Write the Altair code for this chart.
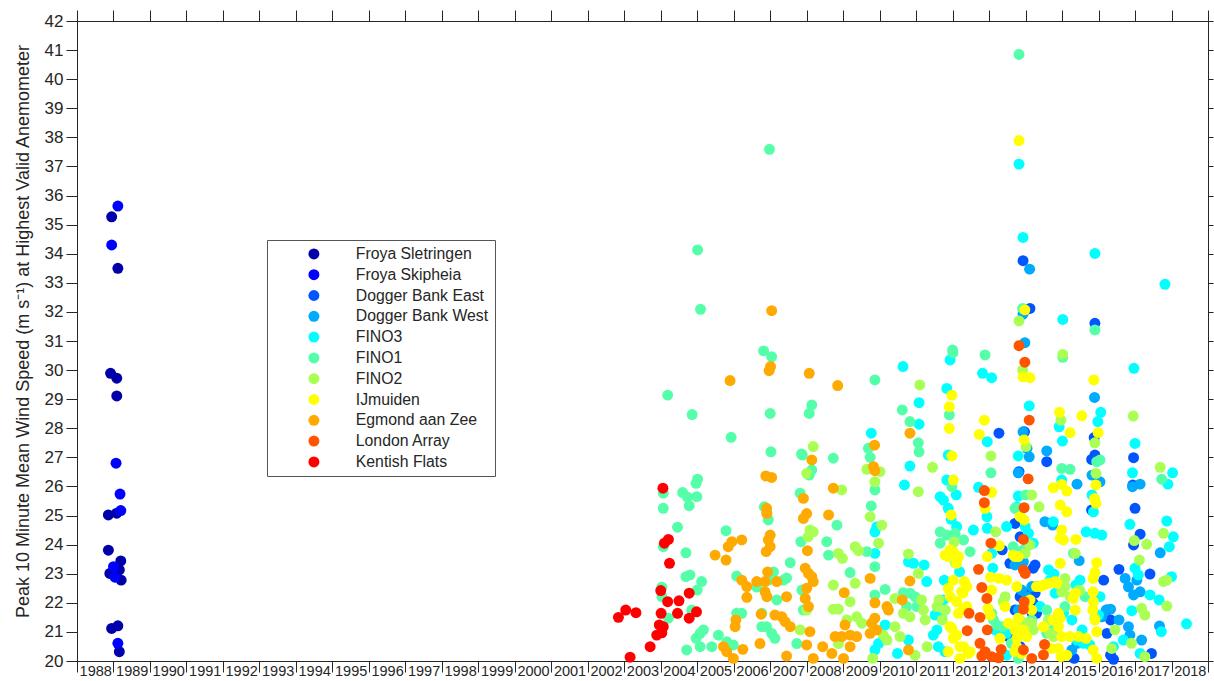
import altair as alt
import pandas as pd

SERIES = ["Froya Sletringen", "Froya Skipheia", "Dogger Bank East", "Dogger Bank West",
          "FINO3", "FINO1", "FINO2", "IJmuiden", "Egmond aan Zee", "London Array", "Kentish Flats"]
COLORS = ["#0000AA", "#0000FF", "#0055FF", "#00AAFF", "#00FFFF", "#55FFAA",
          "#AAFF55", "#FFFF00", "#FFAA00", "#FF5500", "#FF0000"]

YEAR_TICKS = list(range(1988, 2020))
SPEED_TICKS = list(range(20, 43))

froya_sletringen = [(1988.92, 29.89), (1989.09, 29.72), (1989.09, 29.11), (1988.95, 35.27), (1989.12, 33.50),
                    (1988.86, 25.02), (1989.09, 25.08), (1988.86, 23.81), (1989.20, 23.44), (1988.90, 23.01),
                    (1989.16, 23.13), (1989.21, 22.78), (1988.95, 21.12), (1989.12, 21.21), (1989.16, 20.32)]
froya_skipheia = [(1989.12, 35.64), (1988.95, 34.30), (1989.07, 26.80), (1989.18, 25.74), (1989.20, 25.17),
                  (1989.00, 23.24), (1989.04, 22.88), (1989.12, 20.61)]
dogger_east = [(2013.93, 33.76), (2014.12, 32.12), (2015.90, 31.61), (2013.27, 27.83), (2013.36, 23.82),
               (2013.53, 20.84), (2014.58, 26.85), (2013.97, 27.88), (2013.71, 24.73), (2013.82, 26.51),
               (2016.96, 26.99), (2016.94, 26.05), (2017.00, 25.25), (2017.14, 24.36), (2016.56, 23.15),
               (2017.41, 22.99), (2016.96, 23.99), (2015.81, 26.93), (2015.90, 27.08), (2015.81, 25.19),
               (2015.88, 27.68), (2016.41, 20.06), (2017.45, 20.26), (2015.33, 20.09), (2014.26, 23.30),
               (2014.18, 21.64), (2016.23, 21.75),
               (2013.85, 24.27), (2014.21, 23.19), (2013.71, 21.75), (2013.85, 22.21), (2013.99, 22.33),
               (2014.26, 22.33), (2014.21, 21.98), (2014.30, 21.64), (2013.85, 20.49), (2016.14, 22.78),
               (2016.33, 21.41), (2016.23, 20.95), (2016.33, 20.20), (2013.57, 23.36), (2014.30, 22.56)]
dogger_west = [(2014.11, 33.47), (2013.93, 31.92), (2013.98, 30.94), (2015.89, 29.06), (2014.58, 27.22),
               (2015.41, 26.08), (2013.80, 26.47), (2014.10, 27.02), (2014.04, 27.31), (2013.93, 27.88),
               (2016.93, 25.99), (2017.14, 26.08), (2015.82, 26.39), (2016.04, 26.16), (2014.53, 24.79),
               (2014.74, 24.67), (2015.47, 23.45), (2016.73, 22.84), (2016.82, 22.55), (2016.96, 22.27),
               (2017.14, 22.38), (2017.05, 22.78), (2017.69, 23.72), (2017.67, 21.20), (2016.82, 21.18),
               (2016.86, 20.89), (2017.18, 20.72), (2016.21, 21.75), (2016.33, 21.78), (2016.56, 21.41),
               (2016.09, 21.52), (2013.71, 23.30), (2013.80, 21.75), (2013.89, 22.44), (2014.17, 22.56),
               (2015.27, 20.38), (2015.41, 20.61), (2013.94, 23.41), (2014.03, 22.21)]
fino3 = [(2013.82, 37.08), (2013.93, 34.56), (2015.02, 31.74), (2015.90, 34.01), (2017.82, 32.95),
         (2010.64, 30.12), (2011.93, 30.35), (2012.82, 29.89), (2013.07, 29.74), (2016.97, 30.06),
         (2011.08, 28.88), (2011.08, 28.14), (2009.77, 27.83), (2010.83, 26.70), (2010.68, 26.05),
         (2009.92, 24.61), (2009.87, 24.44), (2009.87, 23.70), (2010.79, 23.41), (2010.93, 23.36),
         (2011.22, 23.30), (2011.29, 22.73), (2010.15, 21.24), (2009.97, 20.60), (2009.87, 20.38),
         (2010.79, 20.72), (2010.49, 20.26), (2011.47, 20.89), (2011.84, 29.37), (2011.88, 27.08),
         (2011.84, 26.22), (2011.66, 25.65), (2011.75, 25.53), (2012.10, 25.71), (2011.88, 25.25),
         (2011.96, 24.87), (2012.11, 24.62), (2012.19, 23.07), (2011.77, 22.78), (2011.70, 21.47),
         (2011.75, 22.10), (2012.95, 27.54), (2012.71, 25.97), (2012.94, 24.96), (2012.95, 24.56),
         (2013.10, 23.19), (2014.10, 28.77), (2016.06, 28.55), (2015.98, 28.23), (2014.92, 28.05),
         (2015.01, 27.56), (2017.00, 27.48), (2016.93, 26.47), (2018.03, 26.47), (2017.90, 26.08),
         (2013.80, 27.05), (2015.82, 25.71), (2015.86, 25.13), (2014.99, 26.22), (2014.76, 24.79),
         (2015.66, 24.44), (2015.90, 24.39), (2016.09, 24.33), (2017.87, 24.81), (2016.86, 24.70),
         (2018.05, 24.27), (2017.94, 23.93), (2017.00, 23.19), (2017.09, 22.96), (2018.00, 22.90),
         (2014.63, 23.13), (2014.78, 22.99), (2015.38, 22.61), (2017.41, 22.27), (2017.66, 22.10),
         (2017.72, 21.01), (2018.41, 21.28), (2017.14, 20.26), (2016.68, 20.72), (2014.81, 22.33),
         (2015.58, 20.61), (2015.76, 20.55), (2016.91, 21.73), (2016.00, 21.58), (2013.80, 25.67),
         (2013.48, 24.62),
         (2013.76, 25.30), (2013.99, 24.62), (2014.08, 24.39), (2014.21, 24.05), (2014.40, 21.87),
         (2013.48, 20.95), (2014.67, 22.78), (2014.86, 22.67), (2015.49, 22.78), (2015.04, 21.64),
         (2015.27, 21.41), (2015.55, 21.07), (2015.41, 20.72), (2016.04, 22.21), (2016.41, 20.49),
         (2011.52, 21.58), (2011.61, 20.49), (2011.79, 20.32), (2011.57, 21.07), (2012.57, 24.50),
         (2013.07, 23.70), (2013.16, 21.07), (2013.30, 20.84), (2013.48, 20.20)]
fino1 = [(2013.82, 40.85), (2006.98, 37.59), (2005.01, 34.13), (2005.09, 32.09), (2006.82, 30.66),
         (2007.04, 30.46), (2009.87, 29.66), (2012.00, 30.69), (2012.01, 30.60), (2012.89, 30.52),
         (2013.92, 32.12), (2015.90, 31.38), (2015.02, 30.44),
         (2004.19, 29.14), (2004.86, 28.47), (2005.93, 27.69), (2007.00, 28.51), (2007.02, 27.19),
         (2007.88, 27.08), (2005.01, 26.25), (2004.97, 26.11), (2004.60, 25.79), (2004.73, 25.63),
         (2004.99, 25.65), (2004.78, 25.34), (2004.07, 25.77), (2004.07, 25.25), (2004.46, 24.60),
         (2004.07, 23.93), (2004.69, 23.72), (2005.79, 24.48), (2007.82, 25.77), (2006.84, 25.30),
         (2006.90, 25.13), (2006.95, 24.85), (2004.69, 22.90), (2004.80, 22.96), (2005.12, 22.73),
         (2005.00, 22.44), (2004.03, 22.54), (2004.03, 22.21), (2004.85, 21.75), (2004.21, 21.47),
         (2005.08, 20.95), (2004.97, 20.78), (2005.17, 21.07), (2004.71, 20.38), (2005.08, 20.49),
         (2005.40, 20.49), (2005.58, 20.89), (2005.81, 20.66), (2005.99, 20.55), (2006.08, 21.64),
         (2006.22, 21.64), (2006.08, 22.92), (2006.63, 22.54), (2006.77, 21.18), (2006.90, 21.18),
         (2007.04, 20.95), (2007.13, 20.78), (2006.77, 21.64), (2007.09, 23.06), (2006.95, 22.78),
         (2007.36, 22.78), (2007.45, 22.85), (2007.18, 22.10), (2007.55, 23.38), (2007.73, 20.60),
         (2007.87, 22.44), (2007.91, 21.75), (2007.84, 24.10),
         (2008.14, 28.80), (2008.07, 28.51), (2010.62, 28.63), (2010.83, 28.23), (2011.06, 27.50),
         (2011.08, 27.19), (2009.69, 27.31), (2009.74, 27.00), (2009.87, 25.88), (2008.14, 26.57),
         (2008.07, 26.39), (2008.73, 26.97), (2007.86, 27.12), (2008.83, 24.67), (2008.55, 24.10),
         (2009.77, 25.33), (2009.87, 23.24), (2009.65, 23.76), (2008.60, 23.64), (2009.19, 23.04),
         (2010.15, 22.46), (2009.87, 22.27), (2010.65, 22.35), (2010.83, 22.33), (2010.97, 22.21),
         (2010.74, 21.87), (2011.02, 21.87), (2011.91, 28.46), (2011.98, 25.99), (2011.66, 24.44),
         (2011.84, 24.33), (2012.07, 24.39), (2011.66, 24.05), (2012.48, 23.76), (2013.05, 26.47),
         (2013.21, 21.24),
         (2014.99, 26.62), (2015.22, 26.59), (2017.73, 26.25), (2015.95, 26.85), (2016.04, 26.91),
         (2014.00, 25.71), (2013.85, 25.25), (2013.94, 23.82), (2015.31, 23.70), (2014.58, 21.75),
         (2015.08, 21.87), (2013.71, 25.25), (2014.17, 21.41), (2014.76, 21.07), (2013.80, 20.09),
         (2013.66, 23.93), (2013.80, 23.70), (2013.61, 20.61), (2013.38, 21.18), (2014.58, 20.95),
         (2015.44, 22.44), (2015.63, 22.21), (2013.07, 21.64), (2013.12, 21.41), (2012.30, 24.16)]
fino2 = [(2011.10, 29.49), (2013.82, 31.69), (2013.92, 30.00), (2015.02, 30.54),
         (2007.82, 21.07), (2008.00, 26.45), (2008.00, 21.75),
         (2011.45, 26.66), (2010.01, 26.51), (2009.65, 26.59), (2009.87, 26.16), (2011.06, 25.82),
         (2008.18, 27.37), (2008.96, 25.88), (2008.09, 24.50), (2008.18, 24.44), (2008.04, 24.27),
         (2009.74, 24.96), (2010.06, 24.67), (2009.97, 24.05), (2008.87, 23.70), (2008.98, 23.53),
         (2009.33, 23.93), (2009.42, 23.79), (2009.33, 22.67), (2008.73, 22.61), (2009.19, 22.04),
         (2008.73, 21.78), (2008.87, 21.78), (2010.42, 22.15), (2010.79, 23.68), (2011.06, 23.01),
         (2011.15, 22.10), (2011.20, 21.75), (2010.65, 21.64), (2010.83, 21.52), (2009.37, 21.52),
         (2009.51, 21.30), (2009.10, 21.41), (2008.87, 20.60), (2010.10, 20.89), (2010.20, 20.72),
         (2010.42, 21.18), (2010.56, 20.84), (2010.97, 20.20), (2009.81, 20.09), (2011.25, 21.41),
         (2011.30, 20.49), (2012.07, 23.38), (2011.80, 21.75), (2011.57, 21.87), (2013.05, 27.05),
         (2013.18, 24.44), (2013.39, 22.04),
         (2016.95, 28.42), (2017.69, 26.66), (2014.97, 28.28), (2014.01, 27.37), (2015.90, 27.50),
         (2015.93, 26.45), (2014.37, 25.30), (2017.32, 24.01), (2016.98, 24.14), (2017.12, 23.47),
         (2017.78, 22.73), (2017.87, 22.78), (2017.78, 24.39), (2014.17, 25.71), (2015.36, 23.70),
         (2015.08, 22.84), (2015.49, 22.42), (2017.18, 21.81), (2017.27, 21.58), (2017.87, 21.89),
         (2016.90, 20.61), (2017.27, 20.15), (2016.45, 21.07), (2016.36, 20.43), (2015.90, 21.47),
         (2014.17, 21.30), (2014.67, 20.95), (2014.99, 22.38),
         (2014.12, 23.99), (2013.44, 22.21), (2013.85, 21.41), (2014.03, 21.30), (2014.21, 21.07),
         (2015.08, 22.56), (2015.22, 22.21), (2011.63, 22.10), (2011.72, 21.41), (2012.04, 24.09),
         (2013.99, 23.70), (2014.63, 21.41), (2014.76, 20.84)]
ijmuiden = [(2013.82, 37.89), (2013.98, 32.07), (2013.93, 29.77), (2014.12, 29.74), (2015.87, 29.66),
            (2011.98, 29.14), (2011.91, 28.74), (2011.91, 28.00), (2011.98, 27.05), (2012.02, 26.22),
            (2011.96, 25.02), (2011.88, 23.59), (2012.02, 23.76), (2012.16, 23.59), (2012.32, 22.73),
            (2012.39, 22.56), (2012.28, 22.33), (2011.88, 22.50), (2011.93, 22.21), (2012.11, 22.04),
            (2012.30, 21.81), (2011.98, 21.12), (2012.02, 20.78), (2012.20, 20.49), (2011.88, 20.32),
            (2012.43, 20.26), (2012.20, 20.09), (2012.87, 28.28), (2012.73, 27.79), (2013.07, 25.80),
            (2012.89, 25.25), (2013.28, 23.96), (2012.95, 23.59), (2013.04, 22.88), (2013.27, 22.84),
            (2013.07, 22.44), (2012.97, 21.81), (2013.30, 20.78), (2013.03, 21.58),
            (2014.93, 28.55), (2015.54, 28.43), (2015.22, 27.85), (2015.99, 27.85), (2013.96, 27.60),
            (2014.76, 25.96), (2014.99, 26.07), (2015.13, 25.84), (2015.93, 26.05), (2015.89, 25.59),
            (2015.93, 25.42), (2014.95, 25.36), (2015.13, 25.13), (2013.85, 24.96), (2013.96, 24.85),
            (2014.99, 24.50), (2014.95, 24.22), (2015.04, 24.16), (2015.38, 24.18), (2013.71, 23.59),
            (2015.95, 23.38), (2014.95, 23.36), (2015.90, 23.04), (2015.85, 22.84), (2014.81, 22.73),
            (2014.63, 22.67), (2014.40, 22.56), (2013.76, 22.56), (2014.12, 22.10), (2015.85, 22.38),
            (2015.86, 22.04), (2015.84, 21.75), (2015.90, 21.41), (2015.31, 22.15), (2015.36, 21.75),
            (2013.80, 21.47), (2013.71, 21.18), (2013.94, 21.07), (2014.76, 21.41), (2014.95, 21.47),
            (2014.90, 21.18), (2013.76, 20.78), (2014.03, 20.84), (2014.99, 20.84), (2015.22, 20.84),
            (2015.45, 20.84), (2015.66, 20.78), (2015.95, 21.01), (2014.72, 20.43), (2014.90, 20.43),
            (2015.13, 20.20), (2015.85, 20.38), (2015.95, 20.09), (2013.71, 20.32),
            (2013.48, 22.78), (2013.44, 21.87), (2014.49, 21.18), (2015.36, 22.33), (2014.90, 21.64),
            (2011.79, 23.64), (2011.93, 23.82), (2012.11, 23.36), (2012.02, 22.78), (2012.25, 22.38),
            (2012.39, 21.87), (2012.16, 21.64), (2011.93, 21.18), (2012.11, 20.89), (2012.30, 20.49),
            (2012.48, 20.32), (2013.66, 23.64), (2013.80, 23.59), (2013.53, 21.30), (2013.71, 21.07),
            (2013.76, 20.49), (2013.89, 20.26), (2014.30, 22.56), (2014.49, 22.61), (2014.86, 22.67),
            (2014.17, 21.75), (2014.97, 20.15)]
egmond = [(2007.04, 32.04), (2007.01, 30.12), (2006.97, 29.98), (2008.07, 29.89), (2005.90, 29.64),
          (2008.85, 29.47),
          (2006.88, 26.36), (2007.04, 26.31), (2006.90, 25.25), (2006.91, 25.07), (2007.00, 24.33),
          (2006.95, 24.16), (2006.89, 23.76), (2007.00, 23.93), (2005.49, 23.64), (2005.79, 23.47),
          (2005.85, 23.93), (2005.95, 24.10), (2006.22, 24.16), (2006.93, 23.06), (2006.22, 22.78),
          (2006.36, 22.56), (2006.36, 22.19), (2006.63, 22.73), (2006.86, 22.73), (2006.86, 22.38),
          (2006.91, 22.21), (2007.18, 22.73), (2007.45, 22.21), (2006.75, 21.61), (2007.13, 21.58),
          (2007.32, 21.52), (2007.41, 21.35), (2007.55, 21.18), (2006.06, 21.41), (2006.04, 21.18),
          (2005.72, 20.49), (2005.81, 20.32), (2005.99, 20.09), (2006.25, 20.40), (2006.72, 20.60),
          (2007.45, 20.17),
          (2010.83, 27.83), (2009.86, 27.42), (2009.83, 26.68), (2009.87, 26.54), (2008.14, 26.91),
          (2008.73, 25.94), (2007.91, 25.59), (2008.00, 25.07), (2007.91, 24.90), (2008.60, 25.02),
          (2008.02, 23.79), (2007.96, 23.19), (2008.05, 23.01), (2008.14, 22.90), (2008.18, 22.73),
          (2008.00, 22.50), (2007.96, 22.15), (2008.05, 21.87), (2009.03, 22.35), (2009.74, 22.84),
          (2009.87, 22.00), (2010.20, 21.87), (2010.24, 21.75), (2010.62, 22.10), (2010.83, 22.75),
          (2009.87, 21.47), (2009.78, 21.30), (2009.92, 21.07), (2009.74, 20.95), (2009.05, 21.24),
          (2008.96, 20.84), (2008.78, 20.84), (2009.19, 20.89), (2009.37, 20.84), (2009.19, 20.49),
          (2008.44, 20.49), (2008.69, 20.26), (2009.01, 20.09), (2008.00, 20.55), (2008.18, 20.09),
          (2008.09, 21.01), (2010.79, 20.38)]
london_array = [(2013.82, 30.84), (2013.98, 30.27), (2012.87, 25.86), (2012.87, 25.44), (2013.05, 24.05),
                (2012.71, 23.15), (2012.80, 22.53), (2012.94, 22.15), (2012.45, 21.64), (2012.75, 21.50),
                (2012.40, 21.04), (2012.95, 21.07), (2012.75, 20.61), (2013.33, 20.40), (2012.80, 20.17),
                (2013.07, 20.15), (2013.26, 20.11), (2012.89, 20.32),
                (2014.10, 28.28), (2014.07, 26.26), (2013.96, 25.27), (2013.94, 24.18), (2013.94, 23.13),
                (2013.99, 23.01), (2013.96, 22.04), (2013.94, 21.78), (2014.52, 20.57), (2014.49, 20.21),
                (2013.94, 20.38), (2014.17, 20.09)]
kentish_flats = [(2004.06, 25.94), (2004.10, 24.05), (2004.21, 24.18), (2004.24, 23.36), (2004.00, 22.42),
                 (2004.78, 22.33), (2004.19, 22.04), (2004.50, 22.07), (2004.01, 21.64), (2004.46, 21.64),
                 (2004.98, 21.69), (2004.78, 21.47), (2002.84, 21.50), (2003.04, 21.75), (2003.32, 21.66),
                 (2003.96, 21.24), (2004.07, 21.18), (2003.89, 20.89), (2004.03, 20.97), (2003.71, 20.49),
                 (2003.16, 20.13)]

ALL = [froya_sletringen, froya_skipheia, dogger_east, dogger_west, fino3, fino1, fino2,
       ijmuiden, egmond, london_array, kentish_flats]

rows = []
for name, pts in zip(SERIES, ALL):
    for yr, sp in pts:
        rows.append({"station": name, "year": yr, "speed": sp})
df = pd.DataFrame(rows)

FONT = "Liberation Sans"
INK = "#262626"

xscale = alt.Scale(domain=[1988, 2019], nice=False, zero=False)
yscale = alt.Scale(domain=[20, 42], nice=False, zero=False)

points = alt.Chart(df).mark_circle(size=120, opacity=1).encode(
    x=alt.X("year:Q", scale=xscale,
            axis=alt.Axis(orient="bottom", values=YEAR_TICKS, format="d", title=None,
                          labelExpr="datum.value >= 2019 ? '' : datum.label",
                          labelOffset=18.24, tickSize=11, labelFontSize=14.5, labelFont=FONT,
                          labelColor=INK, tickColor=INK, domainColor=INK, labelPadding=-8,
                          labelOverlap=False, labelFlush=False, labelBound=False, grid=False)),
    y=alt.Y("speed:Q", scale=yscale,
            axis=alt.Axis(orient="left", values=SPEED_TICKS, format="d",
                          title="Peak 10 Minute Mean Wind Speed (m s\u207b\u00b9) at Highest Valid Anemometer",
                          titleFont=FONT, titleFontSize=18, titleFontWeight="normal", titleColor=INK,
                          titlePadding=12, titleY=310, tickSize=11, labelFontSize=17, labelFont=FONT,
                          labelColor=INK, tickColor=INK, domainColor=INK, labelPadding=3,
                          labelOverlap=False, grid=False)),
    color=alt.Color("station:N", scale=alt.Scale(domain=SERIES, range=COLORS),
                    legend=alt.Legend(orient="none", legendX=190, legendY=219, title=None,
                                      symbolType="circle", symbolSize=120, symbolStrokeWidth=0,
                                      labelFont=FONT, labelFontSize=15.8, labelColor=INK,
                                      fillColor="white", strokeColor="#555555", padding=6,
                                      rowPadding=3.8, symbolOffset=33, labelOffset=34)),
)

frame = alt.Chart(df).mark_point(opacity=0).encode(
    x=alt.X("year:Q", scale=xscale,
            axis=alt.Axis(orient="top", values=YEAR_TICKS, labels=False, title=None,
                          tickSize=11, tickColor=INK, domainColor=INK, grid=False)),
    y=alt.Y("speed:Q", scale=yscale,
            axis=alt.Axis(orient="right", values=SPEED_TICKS, labels=False, title=None,
                          tickSize=5, tickColor=INK, domainColor=INK, grid=False)),
)

chart = alt.layer(points, frame).resolve_axis(x="independent", y="independent").properties(
    width=1131, height=640,
    autosize=alt.AutoSizeParams(type="none"),
    padding={"left": 77, "top": 21, "right": 6, "bottom": 20},
).configure_view(strokeOpacity=0).configure(background="white")

chart.save("out.html", embed_options={"renderer": "svg", "actions": False})
